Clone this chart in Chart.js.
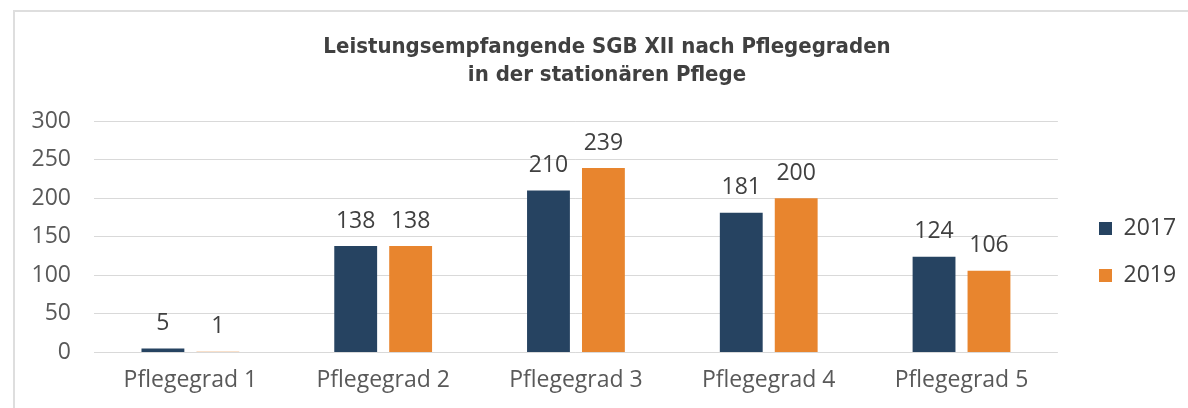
<!DOCTYPE html>
<html>
<head>
<meta charset="utf-8">
<script src="https://cdn.jsdelivr.net/npm/chart.js@4/dist/chart.umd.min.js"></script>
<style>
html,body{margin:0;padding:0;background:#fff;}
#frame{position:absolute;left:13px;top:10px;width:1175px;height:398px;border-left:2px solid #dedede;border-top:2px solid #dedede;}
#wrap{position:absolute;left:2px;top:2px;width:1173px;height:396px;}
</style>
</head>
<body>
<div id="frame"><div id="wrap"><canvas id="c" width="1173" height="396"></canvas></div></div>
<script>
const categories = ['Pflegegrad 1','Pflegegrad 2','Pflegegrad 3','Pflegegrad 4','Pflegegrad 5'];
const values2017 = [5,138,210,181,124];
const values2019 = [1,138,239,200,106];
const seriesNames = ['2017','2019'];
const titleLines = ['Leistungsempfangende SGB XII nach Pflegegraden','in der stationären Pflege'];

const valueLabels = {
  id:'valueLabels',
  afterDatasetsDraw(chart){
    const ctx = chart.ctx;
    ctx.save();
    ctx.font = '23px "Open Sans"';
    ctx.fillStyle = '#404040';
    ctx.textAlign = 'center';
    ctx.textBaseline = 'middle';
    chart.data.datasets.forEach((ds,i)=>{
      chart.getDatasetMeta(i).data.forEach((bar,j)=>{
        ctx.fillText(String(ds.data[j]), bar.x, bar.y - 25);
      });
    });
    ctx.restore();
  }
};

const boxShift = {
  id:'boxShift',
  afterLayout(chart){
    const l = chart.legend;
    const dx = 1058 - l.left, dy = 41;
    l.left += dx; l.right += dx;
    l.top += dy; l.bottom += dy;
    const t = chart.titleBlock;
    if (t) { t.left += 14; t.right += 14; }
  }
};

new Chart(document.getElementById('c'),{
  type:'bar',
  data:{
    labels:categories,
    datasets:[
      {label:seriesNames[0],data:values2017,backgroundColor:'#264361'},
      {label:seriesNames[1],data:values2019,backgroundColor:'#E8852E'}
    ]
  },
  options:{
    responsive:false,
    animation:false,
    devicePixelRatio:1,
    categoryPercentage:0.57,
    barPercentage:0.78,
    layout:{padding:{left:0,right:21,top:0,bottom:2}},
    plugins:{
      title:{display:true,text:titleLines,color:'#404040',
        font:{family:'"Liberation Sans Narrow", "DejaVu Sans Condensed", sans-serif',size:22,weight:'bold',lineHeight:1.273},
        padding:{top:19,bottom:32}},
      legend:{position:'right',labels:{boxWidth:13,boxHeight:13,padding:24,color:'#404040',
        font:{family:'"Open Sans"',size:23}}},
      tooltip:{enabled:false}
    },
    scales:{
      x:{grid:{display:false,drawTicks:false},border:{display:false},
        ticks:{color:'#595959',padding:14,font:{family:'"Open Sans"',size:23}}},
      y:{min:0,max:300,
        afterFit(scale){ scale.width = 77; },
        grid:{color:'#d9d9d9',lineWidth:1,drawTicks:false},border:{display:false},
        ticks:{stepSize:50,color:'#595959',padding:23,font:{family:'"Open Sans"',size:23}}}
    }
  },
  plugins:[valueLabels, boxShift]
});
</script>
</body>
</html>
